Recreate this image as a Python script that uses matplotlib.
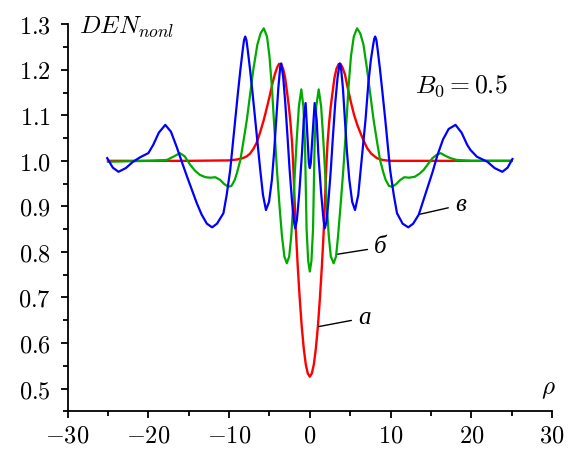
import numpy as np
import matplotlib
matplotlib.use('Agg')
import matplotlib.pyplot as plt
from matplotlib.ticker import MultipleLocator, FuncFormatter

# curve "а" (red)
x_a = [-25, -15, -10, -9, -8.3, -7.8, -7.4, -7.0, -6.6, -6.2, -5.7, -5.3, -4.9, -4.6, -4.3,
       -4.0, -3.8, -3.55, -3.3, -3.05, -2.8, -2.6, -2.4, -2.2, -2.05, -1.9, -1.75, -1.5, -1.25, -1.0,
       -0.75, -0.5, -0.25, 0,
       0.25, 0.5, 0.75, 1.0, 1.25, 1.5, 1.75, 1.9, 2.05, 2.2, 2.4, 2.6, 2.8, 3.05, 3.3,
       3.55, 3.8, 4.05, 4.35, 4.7, 5.1, 5.5, 5.9, 6.3, 6.7, 7.1, 7.6, 8.3, 9.0, 10, 15, 25]
y_a = [1.0, 1.0, 1.001, 1.003, 1.006, 1.010, 1.016, 1.026, 1.039, 1.060, 1.090, 1.118, 1.148, 1.172, 1.192,
       1.207, 1.213, 1.212, 1.202, 1.182, 1.148, 1.12, 1.085, 1.04, 0.99, 0.92, 0.855, 0.77, 0.698, 0.636,
       0.588, 0.553, 0.533, 0.526,
       0.533, 0.553, 0.588, 0.636, 0.698, 0.77, 0.855, 0.92, 0.99, 1.04, 1.085, 1.12, 1.148, 1.182, 1.202,
       1.212, 1.213, 1.205, 1.19, 1.16, 1.128, 1.10, 1.078, 1.06, 1.043, 1.028, 1.016, 1.006, 1.002, 1.0, 1.0, 1.0]

# curve "б" (green)
x_b = [-25, -20, -17.7, -16.8, -16.1, -15.5, -14.8, -14.2, -13.6, -12.9, -12.3, -11.7, -11.1, -10.6, -10.1,
       -9.7, -9.3, -9.0, -8.6, -8.2, -7.8, -7.4, -7.0, -6.5, -6.1, -5.7, -5.3, -5.0, -4.7, -4.4,
       -4.07, -3.75, -3.45, -3.15, -2.85, -2.55, -2.3, -2.05, -1.85, -1.6, -1.35, -1.05, -0.8, -0.6, -0.4,
       -0.2, 0,
       0.2, 0.4, 0.6, 0.8, 1.1, 1.4, 1.65, 1.9, 2.1, 2.35, 2.6, 2.95, 3.25, 3.5, 3.8,
       4.15, 4.5, 4.8, 5.1, 5.45, 5.85, 6.25, 6.65, 7.1, 7.5, 7.9, 8.3, 8.7, 9.1, 9.4,
       9.8, 10.2, 10.7, 11.2, 11.7, 12.3, 13.0, 13.6, 14.1, 14.6, 15.2, 15.7, 16.2, 16.8, 17.4,
       18.2, 20, 25]
y_b = [0.998, 1.0, 1.002, 1.01, 1.017, 1.01, 0.991, 0.978, 0.969, 0.964, 0.963, 0.964, 0.958, 0.949, 0.943,
       0.945, 0.958, 0.975, 1.002, 1.045, 1.09, 1.145, 1.2, 1.255, 1.28, 1.291, 1.273, 1.23, 1.163, 1.075,
       0.98, 0.90, 0.835, 0.79, 0.775, 0.79, 0.835, 0.905, 0.975, 1.053, 1.12, 1.157, 1.12, 1.04, 0.85,
       0.78, 0.757,
       0.78, 0.85, 1.04, 1.12, 1.157, 1.12, 1.053, 0.975, 0.905, 0.835, 0.79, 0.775, 0.79, 0.835, 0.90,
       0.98, 1.075, 1.163, 1.23, 1.273, 1.291, 1.28, 1.255, 1.2, 1.145, 1.09, 1.045, 1.002, 0.975, 0.958,
       0.945, 0.943, 0.949, 0.958, 0.964, 0.963, 0.965, 0.972, 0.98, 0.992, 1.006, 1.013, 1.017, 1.011, 1.006,
       1.002, 1.0, 1.0]

# curve "в" (blue)
x_v = [-25.1, -24.4, -23.7, -22.8, -21.9, -21.0, -20.0, -19.4, -18.7, -17.9, -17.2, -16.5, -15.8, -15.2, -14.0,
       -13.4, -12.75, -12.1, -11.5, -10.7, -10.3, -9.86, -9.55, -9.24, -8.9, -8.6, -8.3, -8.15, -8.0, -7.85,
       -7.7, -7.4, -7.1, -6.76, -6.45, -6.14, -5.8, -5.43, -5.05, -4.7, -4.42, -4.16, -3.9, -3.66, -3.54,
       -3.3, -3.04, -2.75, -2.5, -2.2, -1.95, -1.8, -1.6, -1.3, -0.97, -0.75, -0.52, -0.27, -0.12, 0,
       0.12, 0.3, 0.6, 0.85, 1.05, 1.4, 1.7, 1.85, 2.05, 2.3, 2.6, 2.85, 3.15, 3.45, 3.7,
       3.85, 4.1, 4.35, 4.6, 4.9, 5.25, 5.6, 6.0, 6.3, 6.6, 6.9, 7.25, 7.55, 7.85, 7.98,
       8.1, 8.25, 8.4, 8.7, 9.0, 9.35, 9.65, 9.95, 10.4, 10.8, 11.5, 12.2, 12.8, 13.5, 14.1,
       15.2, 15.8, 16.5, 17.2, 18.05, 18.8, 19.5, 19.9, 20.7, 22.0, 22.9, 23.85, 24.5, 25.1]
y_v = [1.006, 0.985, 0.976, 0.984, 0.998, 1.008, 1.017, 1.035, 1.062, 1.079, 1.064, 1.031, 0.995, 0.965, 0.907,
       0.882, 0.862, 0.854, 0.862, 0.885, 0.925, 0.98, 1.035, 1.09, 1.15, 1.2, 1.245, 1.265, 1.273, 1.265,
       1.245, 1.2, 1.15, 1.09, 1.035, 0.98, 0.925, 0.892, 0.91, 0.958, 1.02, 1.09, 1.16, 1.207, 1.214,
       1.185, 1.127, 1.05, 0.98, 0.91, 0.865, 0.852, 0.87, 0.93, 1.017, 1.09, 1.127, 1.046, 0.995, 0.984,
       0.995, 1.046, 1.127, 1.09, 1.017, 0.93, 0.87, 0.852, 0.865, 0.91, 0.98, 1.05, 1.127, 1.185, 1.214,
       1.207, 1.16, 1.09, 1.02, 0.958, 0.91, 0.892, 0.925, 0.98, 1.035, 1.09, 1.17, 1.22, 1.255, 1.268,
       1.273, 1.265, 1.245, 1.2, 1.15, 1.09, 1.035, 0.98, 0.925, 0.885, 0.862, 0.854, 0.862, 0.882, 0.915,
       0.975, 1.012, 1.047, 1.07, 1.079, 1.062, 1.035, 1.024, 1.009, 0.998, 0.984, 0.976, 0.985, 1.004]

plt.rcParams['mathtext.fontset'] = 'cm'

fig = plt.figure(figsize=(5.78, 4.49), dpi=100)
ax = fig.add_axes([0.117, 0.084, 0.838, 0.862])

ax.plot(x_a, y_a, color='#ff0000', lw=1.7)
ax.plot(x_b, y_b, color='#00aa00', lw=1.6)
ax.plot(x_v, y_v, color='#0000ff', lw=1.6)

ax.set_xlim(-30, 30)
ax.set_ylim(0.45, 1.3)
ax.spines['top'].set_visible(False)
ax.spines['right'].set_visible(False)
for s in ['left', 'bottom']:
    ax.spines[s].set_linewidth(1.3)

ax.xaxis.set_major_locator(MultipleLocator(10))
ax.xaxis.set_minor_locator(MultipleLocator(5))
ax.yaxis.set_minor_locator(MultipleLocator(0.05))
ax.set_yticks(np.arange(0.5, 1.31, 0.1))
ax.xaxis.set_major_formatter(FuncFormatter(lambda v, p: f'${v:g}$'))
ax.yaxis.set_major_formatter(FuncFormatter(lambda v, p: f'${v:.1f}$'))
ax.tick_params(which='major', direction='out', length=5, width=1.3, labelsize=17.5)
ax.tick_params(axis='y', which='major', pad=7)
ax.tick_params(axis='x', which='major', pad=3.5)
ax.tick_params(which='minor', direction='out', length=3.3, width=1.3)

ax.text(0.024, 0.993, r'$DEN_{nonl}$', transform=ax.transAxes, fontsize=18, va='center', ha='left')
ax.text(0.812, 0.84, r'$B_0 = 0.5$', transform=ax.transAxes, fontsize=18.5, va='center', ha='center')
ax.text(0.992, 0.058, r'$\rho$', transform=ax.transAxes, fontsize=18, va='center', ha='center')

lbl = dict(family=['Liberation Serif', 'DejaVu Serif'], style='italic', fontsize=18, va='center', ha='left')
arr = dict(arrowstyle='-', color='black', lw=1.0, shrinkA=3, shrinkB=0)
ax.annotate('а', xy=(1.1, 0.636), xytext=(6.0, 0.655), arrowprops=arr, **lbl)
ax.annotate('б', xy=(3.45, 0.795), xytext=(8.0, 0.81), arrowprops=arr, **lbl)
ax.annotate('в', xy=(13.7, 0.883), xytext=(18.0, 0.903), arrowprops=arr, **lbl)

fig.savefig('out.png', dpi=100)
